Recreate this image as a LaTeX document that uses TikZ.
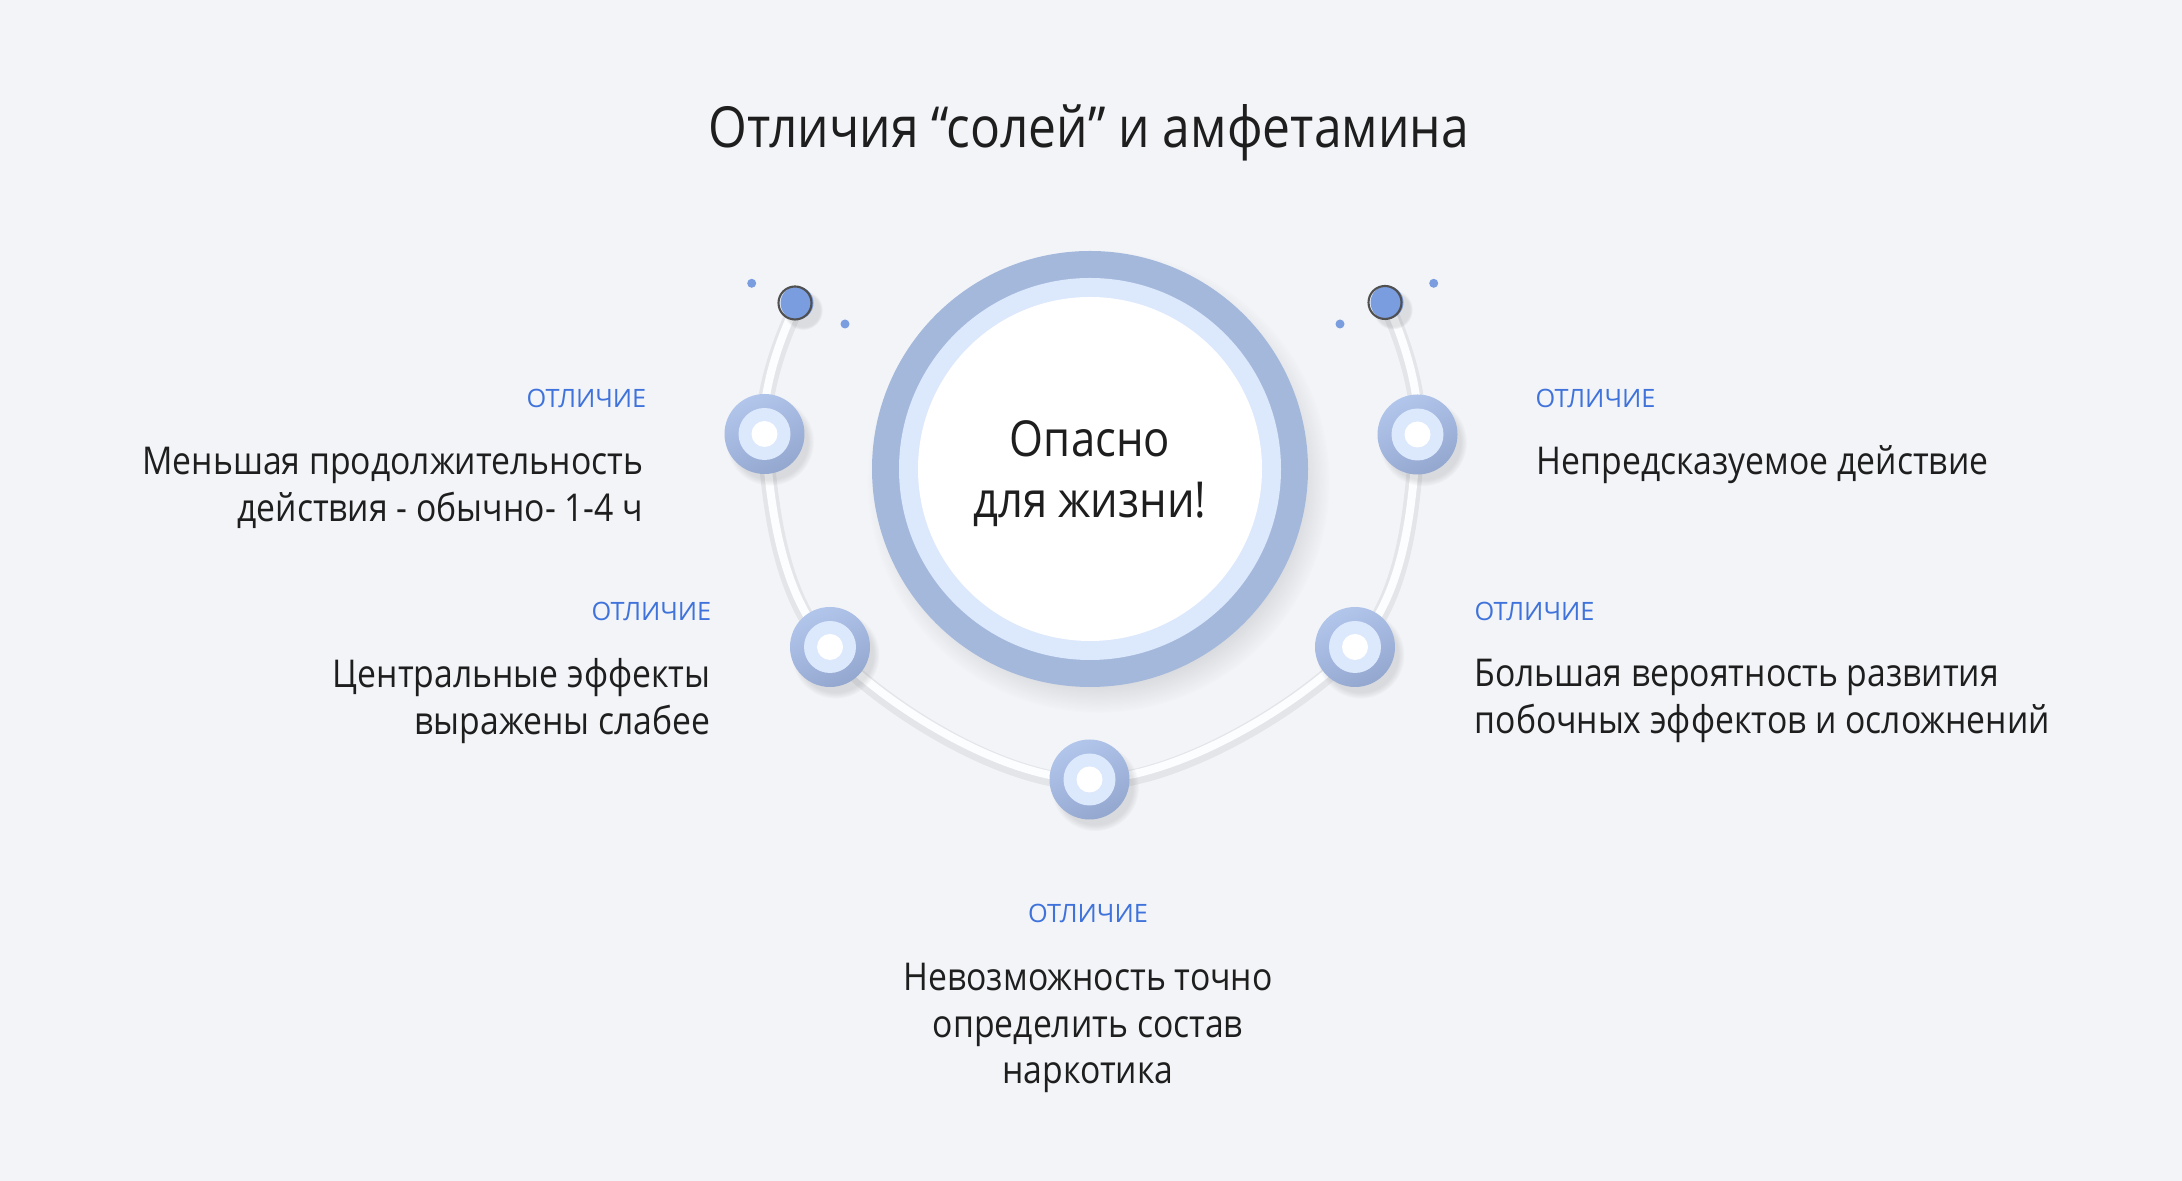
\documentclass[tikz,border=0pt]{standalone}
\usepackage{fontspec}
\setmainfont{Open Sans}[FakeStretch=0.88]
\newfontfamily\tagfont{Open Sans}
\usetikzlibrary{shadows,fadings}
\definecolor{bgcol}{HTML}{F2F4F8}
\definecolor{ringdark}{HTML}{A4B8DC}
\definecolor{ringlight}{HTML}{DCE8FC}
\definecolor{ringtop}{HTML}{B2C6EC}
\definecolor{ringbot}{HTML}{94A7CF}
\definecolor{pinblue}{HTML}{7A9DE0}
\definecolor{pingray}{HTML}{505050}
\definecolor{tagblue}{HTML}{3F73DB}
\definecolor{ink}{HTML}{1E1E1E}
\definecolor{trackcol}{HTML}{FCFDFF}
\pgfdeclarelayer{back}
\pgfsetlayers{back,main}
\tikzset{
  ring node/.style={circle, inner sep=0pt, minimum size=.8cm, top color=ringtop, bottom color=ringbot, shading angle=25,
    circular drop shadow={shadow xshift=.05cm, shadow yshift=-.07cm, shadow scale=1.1, opacity=.22},
    path picture={\fill[ringlight] (path picture bounding box.center) circle (.26cm);
                  \fill[white] (path picture bounding box.center) circle (.13cm);}},
  pin node/.style={circle, inner sep=0pt, minimum size=.33cm, fill=pinblue,
    postaction={draw=pingray, line width=.6pt, transform canvas={xshift=-.02cm}},
    circular drop shadow={shadow xshift=.05cm, shadow yshift=-.06cm, shadow scale=1.2, opacity=.2}},
  dot node/.style={circle, inner sep=0pt, minimum size=.09cm, fill=pinblue},
  big node/.style={circle, inner sep=0pt, minimum size=4.36cm, fill=ringdark,
    circular drop shadow={shadow xshift=.08cm, shadow yshift=-.12cm, shadow scale=1.06, opacity=.25},
    path picture={\fill[ringlight] (path picture bounding box.center) circle (1.91cm);
                  \fill[white] (path picture bounding box.center) circle (1.72cm);}},
  big text/.style={align=center, text=ink, inner sep=0pt, font=\fontsize{14.1}{17.4}\selectfont},
  tag/.style={text=tagblue, inner sep=0pt, font=\tagfont\fontsize{7.2}{9}\selectfont},
  note/.style={text=ink, inner sep=0pt, font=\fontsize{10.9}{13.3}\selectfont},
  track/.style={draw=trackcol, line width=.08cm},
  track shadow/.style={draw=black, opacity=.06, line width=.16cm}
}
\begin{document}
\begin{tikzpicture}
\useasboundingbox (0,0) rectangle (21.82,11.81);
\begin{pgfonlayer}{back}
\fill[bgcol] (0,0) rectangle (21.82,11.81);
\end{pgfonlayer}

\node[text=ink, anchor=base, font=\fontsize{16.1}{19}\selectfont] (title) at (10.89,10.33) {Отличия “солей” и амфетамина};

% center
\node[big node] (mid) at (10.90,7.12) {};
\node[big text] (midtext) at ([yshift=-.05cm]mid.center) {Опасно\\для жизни!};

% points on the track
\node[pin node] (ltop) at (7.97,8.78) {};
\node[pin node] (rtop) at (13.87,8.785) {};
\node[ring node] (d1) at (7.645,7.47) {};
\node[ring node] (d2) at (8.30,5.34) {};
\node[ring node] (d3) at (10.895,4.015) {};
\node[ring node] (d4) at (13.55,5.34) {};
\node[ring node] (d5) at (14.175,7.465) {};
\node[dot node] (dl1) at (7.517,8.977) {};
\node[dot node] (dl2) at (8.45,8.57) {};
\node[dot node] (dr1) at (13.40,8.57) {};
\node[dot node] (dr2) at (14.337,8.977) {};

\begin{pgfonlayer}{back}
\draw[track shadow, transform canvas={yshift=-.03cm}] plot[smooth, tension=.6] coordinates {(ltop.center) (d1.center) (d2.center) (d3.center) (d4.center) (d5.center) (rtop.center)};
\draw[track] plot[smooth, tension=.6] coordinates {(ltop.center) (d1.center) (d2.center) (d3.center) (d4.center) (d5.center) (rtop.center)};
\end{pgfonlayer}

% texts
\node[tag, anchor=east] (t1) at (6.47,7.83) {ОТЛИЧИЕ};
\node[note, anchor=east, align=right] (n1) at (6.44,6.93) {Меньшая продолжительность\\действия - обычно- 1-4 ч};
\node[tag, anchor=east] (t2) at (7.12,5.70) {ОТЛИЧИЕ};
\node[note, anchor=east, align=right] (n2) at (7.11,4.80) {Центральные эффекты\\выражены слабее};
\node[tag, anchor=west] (t5) at (15.35,7.83) {ОТЛИЧИЕ};
\node[note, anchor=west, align=left] (n5) at (15.36,7.16) {Непредсказуемое действие};
\node[tag, anchor=west] (t4) at (14.74,5.70) {ОТЛИЧИЕ};
\node[note, anchor=west, align=left] (n4) at (14.74,4.80) {Большая вероятность развития\\побочных эффектов и осложнений};
\node[tag] (t3) at (10.88,2.68) {ОТЛИЧИЕ};
\node[note, align=center] (n3) at (10.88,1.53) {Невозможность точно\\определить состав\\наркотика};
\end{tikzpicture}
\end{document}
